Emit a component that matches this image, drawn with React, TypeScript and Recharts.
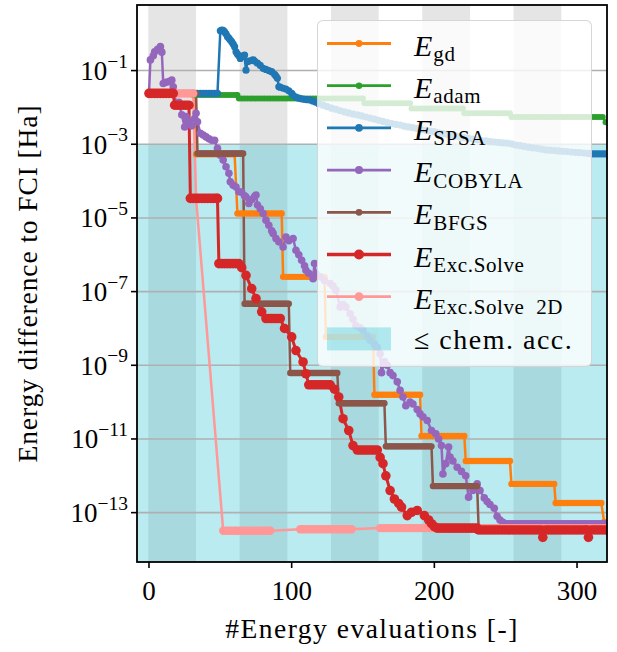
import React from 'react';
import { LineChart, Line, XAxis, YAxis, ReferenceArea, ReferenceLine } from 'recharts';

type Piece = [number, number] | [number, number, number];

// ---- tick values / categories ----
const xTicks = [0, 100, 200, 300];
const yTickExps = [-1, -3, -5, -7, -9, -11, -13];
const bandStarts = [0, 64, 128, 192, 256];
const bandWidth = 33;
const chemAccExp = -3;

// ---- series (x = #evaluation, value = log10 of energy difference) ----
// [x0, x1, v] = flat run of evaluations with value v ; [x, v] = single evaluation
const gdPieces: Piece[] = [
  [0, 32, -1.62], [33, 60, -3.27], [62, 93, -4.88], [94, 123, -6.6], [124, 157, -8.23],
  [158, 190, -9.8], [191, 221, -10.92], [222, 253, -11.6], [254, 284, -12.22], [285, 317, -12.74],
  [319, -13.25], [320, -13.3],
];

const adamPieces: Piece[] = [
  [0, 30, -1.62], [31, 62, -1.66], [63, 150, -1.76], [151, 183, -1.89], [184, 220, -2.03],
  [221, 253, -2.16], [254, 318, -2.26], [320, -2.4],
];

const spsaPieces: Piece[] = [
  [0, 48, -1.62],
  [50, 0.08], [51, 0.1], [52, 0.09], [53, 0.05], [54, 0.0], [55, -0.08], [56, -0.12], [57, -0.17],
  [58, -0.22], [59, -0.28], [60, -0.35], [61, -0.49], [62, -0.55], [63, -0.6], [64, -0.67], [65, -0.62],
  [66, -0.6], [67, -0.58], [68, -0.99], [69, -0.76], [70, -0.74], [72, -0.72], [73, -0.71], [74, -0.74],
  [76, -0.8], [78, -0.86], [80, -0.94], [82, -0.97], [84, -1.0], [86, -1.03], [88, -1.1], [89, -1.15],
  [90, -1.21], [91, -1.44], [92, -1.45], [94, -1.48], [96, -1.5], [98, -1.55], [100, -1.62], [101, -1.67],
  [103, -1.72], [105, -1.75], [107, -1.77], [109, -1.78], [111, -1.79], [113, -1.8], [115, -1.83],
  [117, -1.86], [119, -1.9], [122, -1.94], [125, -1.98], [128, -2.02], [131, -2.05], [134, -2.09],
  [137, -2.12], [140, -2.15], [143, -2.18], [146, -2.2], [149, -2.23], [152, -2.26], [155, -2.29],
  [158, -2.32], [161, -2.35], [164, -2.38], [167, -2.41], [170, -2.44], [173, -2.46], [176, -2.48],
  [179, -2.51], [182, -2.53], [185, -2.55], [188, -2.57], [191, -2.6], [194, -2.62], [197, -2.64],
  [200, -2.66], [203, -2.69], [206, -2.71], [209, -2.73], [212, -2.76], [215, -2.78], [218, -2.8],
  [221, -2.82], [224, -2.84], [227, -2.86], [230, -2.88], [233, -2.9], [236, -2.91], [239, -2.93],
  [242, -2.94], [245, -2.95], [248, -2.96], [251, -2.97], [254, -2.99], [257, -3.02], [260, -3.04],
  [263, -3.06], [266, -3.08], [269, -3.1], [272, -3.11], [275, -3.13], [278, -3.15], [281, -3.16],
  [284, -3.17], [287, -3.18], [290, -3.19], [293, -3.2], [296, -3.21], [299, -3.22], [302, -3.23],
  [305, -3.24], [308, -3.25], [310, 320, -3.26],
];

const cobylaPieces: Piece[] = [
  [0, -1.62], [1, -0.71], [3, -0.6], [4, -0.49], [6, -0.42], [8, -0.35], [9, -0.5], [10, -1.35],
  [12, -1.32], [14, -1.3], [16, -1.26], [17, -1.44], [18, -1.62], [19, -1.95], [21, -1.86], [23, -2.2],
  [25, -2.53], [26, -2.25], [28, -2.4], [30, -2.5], [32, -2.3], [33, -2.16], [34, -2.39], [36, -2.7],
  [38, -2.75], [40, -2.8], [42, -2.85], [44, -2.89], [46, -2.89], [48, -3.11], [50, -3.3], [52, -3.43],
  [54, -3.61], [56, -3.79], [57, -4.02], [59, -4.11], [61, -4.16], [63, -4.29], [65, -4.3], [67, -4.4],
  [68, -4.43], [70, -4.61], [72, -4.5], [74, -4.42], [75, -4.38], [76, -4.65], [78, -4.75], [80, -4.88],
  [82, -5.06], [84, -5.2], [86, -5.35], [87, -5.42], [89, -5.56], [91, -5.65], [94, -5.79], [96, -5.52],
  [98, -5.62], [101, -5.56], [103, -5.88], [105, -6.0], [107, -6.15], [109, -6.3], [110, -6.42],
  [112, -6.5], [115, -6.65], [116, -6.24], [117, -6.51], [120, -6.6], [123, -6.7], [127, -6.78],
  [129, -6.85], [131, -6.96], [134, -7.42], [136, -7.35], [138, -7.42], [141, -7.6], [143, -7.75],
  [145, -7.92], [148, -7.98], [150, -8.05], [153, -8.2], [155, -8.32], [158, -8.42], [160, -8.51],
  [162, -8.69], [163, -9.2], [165, -8.9], [167, -9.0], [169, -9.2], [171, -9.28], [174, -9.45],
  [176, -9.68], [178, -9.86], [180, -10.1], [183, -10.0], [185, -10.05], [188, -10.2], [190, -10.32],
  [192, -10.4], [195, -10.5], [198, -10.77], [201, -10.86], [203, -11.0], [205, -11.18], [206, -11.95],
  [208, -11.67], [210, -11.22], [211, -11.49], [213, -11.6], [216, -11.77], [219, -11.88], [222, -12.0],
  [224, -12.58], [227, -12.4], [230, -12.22], [232, -12.4], [235, -12.6], [237, -12.7], [239, -12.78],
  [242, -12.88], [244, -13.1], [246, -13.2], [248, -13.26], [250, 320, -13.3],
];

const bfgsPieces: Piece[] = [
  [0, 33, -1.62], [34, 66, -3.25], [67, 98, -7.33], [99, 132, -9.21], [133, 165, -10.03],
  [166, 198, -11.2], [199, 230, -12.28], [231, 320, -13.4],
];

const excPieces: Piece[] = [
  [0, 17, -1.62], [18, 28, -1.94], [29, 48, -4.47], [49, 63, -6.24],
  [65, -6.35], [68, -6.56], [72, -6.92], [75, -7.19], [79, -7.55], [82, 92, -7.73],
  [95, -8.0], [100, -8.23], [103, -8.6], [108, -8.91], [110, -9.23], [112, 127, -9.53],
  [130, -9.65], [133, -9.86], [136, -10.45], [140, -10.77], [143, -11.18], [146, 160, -11.3],
  [162, -11.5], [164, -11.67], [166, -12.0], [169, -12.4], [172, -12.63], [175, -12.75], [177, -12.85],
  [181, -13.08], [184, -12.99], [188, -12.94], [193, -13.08], [196, -13.2], [198, -13.3], [200, -13.38],
  [202, 230, -13.42], [231, 275, -13.47], [276, -13.67], [278, 307, -13.47], [308, -13.67],
  [310, 320, -13.47],
];

const exc2dPieces: Piece[] = [
  [0, 31, -1.62], [33, -4.47], [52, 85, -13.49], [106, 142, -13.45], [162, 320, -13.42],
];

// ---- styles ----
const FONT = 'Liberation Serif, DejaVu Serif, serif';
const X_MIN = -8.4;
const X_MAX = 321;
const Y_MIN = Math.pow(10, -14.34);
const Y_MAX = Math.pow(10, 0.78);

function expand(pieces: Piece[], step: number) {
  const out: { x: number; y: number }[] = [];
  for (const p of pieces) {
    if (p.length === 3) {
      const [a, b, v] = p;
      for (let x = a; x < b - 0.5; x += step) out.push({ x, y: Math.pow(10, v) });
      out.push({ x: b, y: Math.pow(10, v) });
    } else {
      out.push({ x: p[0], y: Math.pow(10, p[1]) });
    }
  }
  return out;
}

const series = [
  { key: 'gd', sub: 'gd', color: '#ff7f0e', data: expand(gdPieces, 2), r: 3.2, w: 2.5 },
  { key: 'adam', sub: 'adam', color: '#2ca02c', data: expand(adamPieces, 2), r: 3, w: 2.5 },
  { key: 'spsa', sub: 'SPSA', color: '#1f77b4', data: expand(spsaPieces, 2), r: 3.6, w: 2.5 },
  { key: 'cobyla', sub: 'COBYLA', color: '#9467bd', data: expand(cobylaPieces, 2), r: 3.8, w: 2.5 },
  { key: 'bfgs', sub: 'BFGS', color: '#8c564b', data: expand(bfgsPieces, 1), r: 3.2, w: 2.5 },
  { key: 'exc', sub: 'Exc.Solve', color: '#d62728', data: expand(excPieces, 2), r: 4.8, w: 3 },
  { key: 'exc2d', sub: 'Exc.Solve\u00a0\u00a02D', color: '#ff9896', data: expand(exc2dPieces, 2), r: 4.2, w: 2.5 },
];
// drawing order (Exc.Solve drawn on top of Exc.Solve 2D)
const drawOrder = ['gd', 'adam', 'spsa', 'cobyla', 'bfgs', 'exc2d', 'exc'];

const YTick = (props: any) => {
  const { x, y, payload } = props;
  const e = Math.round(Math.log10(payload.value));
  return (
    <text x={x} y={y} textAnchor="end" style={{ fontFamily: FONT }} fill="#000">
      <tspan fontSize={27} dy={9.5}>10</tspan>
      <tspan fontSize={19.5} dy={-12.5}>{'\u2212' + Math.abs(e)}</tspan>
    </text>
  );
};

const XTick = (props: any) => {
  const { x, payload } = props;
  return (
    <text x={x} y={600} textAnchor="middle" style={{ fontFamily: FONT }} fontSize={27} fill="#000">
      {payload.value}
    </text>
  );
};

export default function App() {
  const legendTop = 20;
  const legendLeft = 317;
  const rowH = 42.2;
  return (
    <div style={{ position: 'absolute', left: 0, top: 0, width: 617, height: 652, background: '#fff' }}>
      <LineChart width={617} height={652} margin={{ top: 5, right: 10, bottom: 0, left: 0 }}>
        {bandStarts.map((s) => (
          <ReferenceArea key={'b' + s} x1={s - 0.5} x2={s + bandWidth} fill="#000" fillOpacity={0.1} stroke="none" ifOverflow="hidden" />
        ))}
        <ReferenceArea y1={Y_MIN} y2={Math.pow(10, chemAccExp)} fill="#17becf" fillOpacity={0.3} stroke="none" ifOverflow="hidden" />
        {yTickExps.map((e) => (
          <ReferenceLine key={'g' + e} y={Math.pow(10, e)} stroke="#b0b0b0" strokeWidth={1.6} />
        ))}
        <XAxis
          type="number"
          dataKey="x"
          domain={[X_MIN, X_MAX]}
          ticks={xTicks}
          allowDataOverflow
          axisLine={false}
          tickSize={6}
          tickLine={{ stroke: '#000', strokeWidth: 1.6 }}
          tick={<XTick />}
          height={90}
          interval={0}
        />
        <YAxis
          type="number"
          scale="log"
          domain={[Y_MIN, Y_MAX]}
          ticks={yTickExps.map((e) => Math.pow(10, e))}
          allowDataOverflow
          axisLine={false}
          tickSize={6}
          tickMargin={3}
          tickLine={{ stroke: '#000', strokeWidth: 1.6 }}
          tick={<YTick />}
          width={137}
          interval={0}
        />
        {drawOrder.map((k) => {
          const s = series.find((q) => q.key === k)!;
          return (
            <Line
              key={k}
              data={s.data}
              dataKey="y"
              type="linear"
              stroke={s.color}
              strokeWidth={s.w}
              dot={{ r: s.r, fill: s.color, stroke: 'none' }}
              activeDot={false}
              isAnimationActive={false}
            />
          );
        })}
      </LineChart>

      {/* legend */}
      <div
        style={{
          position: 'absolute',
          left: legendLeft,
          top: legendTop,
          width: 275,
          height: 347,
          boxSizing: 'border-box',
          background: 'rgba(255,255,255,0.8)',
          border: '1px solid rgba(204,204,204,0.8)',
          borderRadius: 6,
        }}
      >
        <svg width={275} height={347} style={{ position: 'absolute', left: -1, top: -1 }}>
          {series.map((s, i) => {
            const cy = 23.5 + i * rowH;
            return (
              <g key={s.key}>
                <line x1={10} x2={74} y1={cy} y2={cy} stroke={s.color} strokeWidth={s.w + 0.3} />
                <circle cx={42} cy={cy} r={s.r + 0.2} fill={s.color} />
                <text x={97} y={cy + 12} style={{ fontFamily: FONT }} fill="#000">
                  <tspan fontSize={30} fontStyle="italic">E</tspan>
                  <tspan fontSize={21} dx={1} dy={5.5} letterSpacing={0.6}>{s.sub}</tspan>
                </text>
              </g>
            );
          })}
          <rect x={10} y={23.5 + 7 * rowH - 11.5} width={64} height={23} fill="#17becf" fillOpacity={0.3} />
          <text x={97} y={23.5 + 7 * rowH + 10} style={{ fontFamily: FONT }} fontSize={28} letterSpacing={1.5} fill="#000">
            {'\u2264 chem. acc.'}
          </text>
        </svg>
      </div>

      {/* frame and axis titles */}
      <svg width={617} height={652} style={{ position: 'absolute', left: 0, top: 0, pointerEvents: 'none' }}>
        <rect x={137} y={5} width={470} height={557} fill="none" stroke="#000" strokeWidth={1.8} />
        <text x={372} y={638} textAnchor="middle" style={{ fontFamily: FONT }} fontSize={27.5} letterSpacing={1.5} fill="#000">
          #Energy evaluations [-]
        </text>
        <text
          transform="translate(37, 283.5) rotate(-90)"
          textAnchor="middle"
          style={{ fontFamily: FONT }}
          fontSize={27.5}
          letterSpacing={0.9}
          fill="#000"
        >
          Energy difference to FCI [Ha]
        </text>
      </svg>
    </div>
  );
}
